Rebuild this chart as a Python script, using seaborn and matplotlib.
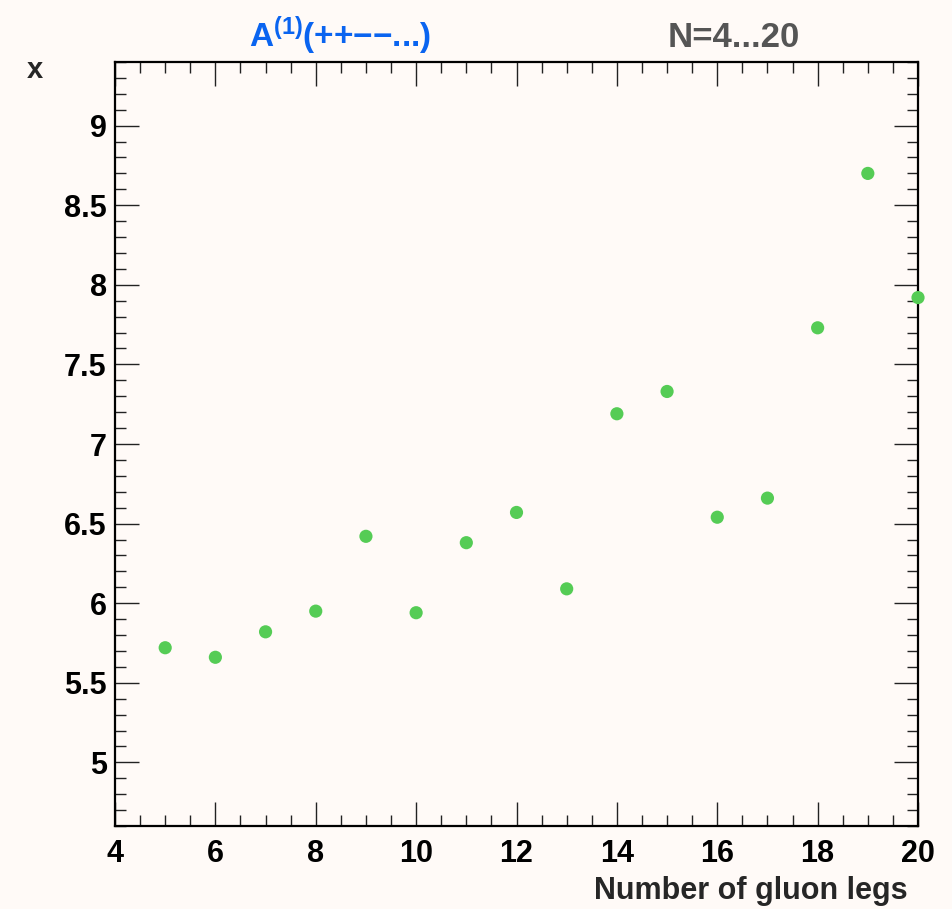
import numpy as np
import pandas as pd
import matplotlib
matplotlib.use("Agg")
import matplotlib.pyplot as plt
import seaborn as sns
from matplotlib.ticker import MultipleLocator

# --- data ---
n_legs = [5, 6, 7, 8, 9, 10, 11, 12, 13, 14, 15, 16, 17, 18, 19, 20]
x_vals = [5.72, 5.66, 5.82, 5.95, 6.42, 5.94, 6.38, 6.57, 6.09, 7.19, 7.33,
          6.54, 6.66, 7.73, 8.70, 7.92]

x_ticks = [4, 6, 8, 10, 12, 14, 16, 18, 20]
y_ticks = [5, 5.5, 6, 6.5, 7, 7.5, 8, 8.5, 9]
y_tick_labels = ["5", "5.5", "6", "6.5", "7", "7.5", "8", "8.5", "9"]

title_left = "A$^{(1)}$(++\u2212\u2212...)"
title_right = "N=4...20"
x_label = "Number of gluon legs"
y_label = "x"

BG = "#fffaf7"
GREEN = "#55cc55"

sns.set_style("ticks")
plt.rcParams["font.family"] = ["Liberation Sans", "DejaVu Sans"]
plt.rcParams["font.weight"] = "bold"
plt.rcParams["mathtext.fontset"] = "custom"
plt.rcParams["mathtext.rm"] = "Liberation Sans:bold"
plt.rcParams["mathtext.bf"] = "Liberation Sans:bold"
plt.rcParams["mathtext.it"] = "Liberation Sans:bold"

df = pd.DataFrame({"legs": n_legs, "x": x_vals})

fig = plt.figure(figsize=(9.52, 9.09), dpi=100, facecolor=BG)
ax = fig.add_axes([0.1208, 0.0913, 0.8435, 0.8405])
ax.set_facecolor(BG)

sns.scatterplot(data=df, x="legs", y="x", ax=ax, color=GREEN, s=90,
                edgecolor="none", linewidth=0, clip_on=False, zorder=3)

ax.set_xlim(4, 20)
ax.set_ylim(4.6, 9.4)
ax.set_xticks(x_ticks)
ax.set_xticklabels([str(t) for t in x_ticks])
ax.set_yticks(y_ticks)
ax.set_yticklabels(y_tick_labels)
ax.xaxis.set_minor_locator(MultipleLocator(0.5))
ax.yaxis.set_minor_locator(MultipleLocator(0.1))

ax.tick_params(which="both", direction="in", top=True, right=True,
               colors="#222222", labelcolor="black", labelsize=22)
ax.tick_params(which="major", length=17, width=1.0)
ax.tick_params(which="minor", length=8, width=1.0)
ax.tick_params(axis="x", which="major", pad=9)
ax.tick_params(axis="y", which="major", pad=6)
for lab in ax.get_xticklabels() + ax.get_yticklabels():
    lab.set_fontweight("bold")

for sp in ax.spines.values():
    sp.set_linewidth(1.6)
    sp.set_color("black")

ax.set_xlabel("")
ax.set_ylabel("")
fig.text(0.953, 1 - 899 / 909, x_label, ha="right", va="baseline",
         fontsize=22, fontweight="bold")
fig.text(0.037, 1 - 70 / 909, y_label, ha="center", va="center",
         fontsize=21, fontweight="bold")

fig.text(0.357, 1 - 47 / 909, title_left, ha="center", va="baseline",
         fontsize=24, fontweight="bold", color="#0a64f0")
fig.text(0.771, 1 - 47 / 909, title_right, ha="center", va="baseline",
         fontsize=25, fontweight="bold", color="#555555")

fig.savefig("out.png", dpi=100, facecolor=BG)
